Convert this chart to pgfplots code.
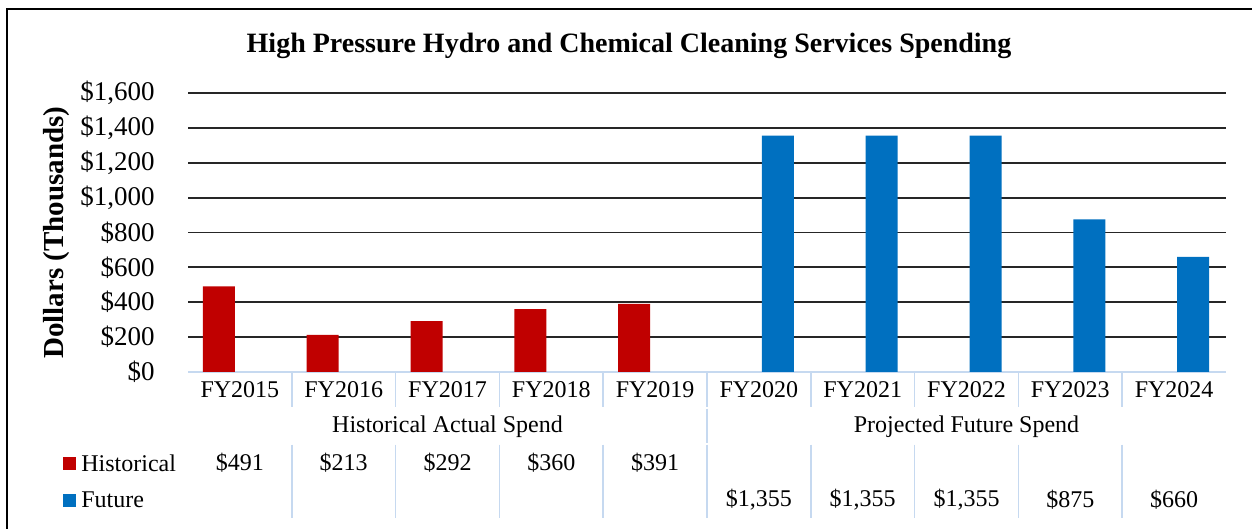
\documentclass[border=0pt]{standalone}
\usepackage{fontspec}
\setmainfont{Liberation Serif}
\usepackage{pgfplots}
\pgfplotsset{compat=1.18}
\definecolor{histred}{HTML}{C00000}
\definecolor{futblue}{HTML}{0070C0}
\definecolor{sepblue}{HTML}{C6D9F0}
\newcommand{\tf}{\fontsize{12}{14}\selectfont}
\newcommand{\yf}{\fontsize{13.5}{16}\selectfont}
\newcommand{\bff}{\bfseries\fontsize{14}{16}\selectfont}
\begin{document}
\begin{tikzpicture}[x=1pt,y=1pt]
\useasboundingbox (0,0) rectangle (626,264.5);
\fill[white] (0,0) rectangle (626,264.5);
\draw[line width=1.1pt] (3.5,0) -- (3.5,260) -- (626,260);
\begin{axis}[
  at={(94pt,78.5pt)}, anchor=south west, scale only axis,
  width=519pt, height=139.5pt,
  xmin=-0.5, xmax=9.5, ymin=0, ymax=1600,
  ybar, bar width=16pt,
  xtick=\empty,
  ytick={0,200,...,1600},
  yticklabels={\$0,\$200,\$400,\$600,\$800,{\$1,000},{\$1,200},{\$1,400},{\$1,600}},
  yticklabel style={font=\yf, anchor=east, inner sep=0pt, xshift=-16.5pt},
  ymajorgrids, grid style={black!85, line width=0.9pt},
  axis x line*=bottom, axis y line*=left,
  x axis line style={sepblue, line width=0.8pt, -},
  y axis line style={draw=none},
  ytick style={draw=none},
  clip=false,
]
\addplot[fill=histred, draw=none, bar shift=-10.5pt] coordinates {(0,491) (1,213) (2,292) (3,360) (4,391)};
\addplot[fill=futblue, draw=none, bar shift=9.5pt] coordinates {(5,1355) (6,1355) (7,1355) (8,875) (9,660)};
\end{axis}
\def\cw{51.9}
\foreach \i/\lab in {0/FY2015,1/FY2016,2/FY2017,3/FY2018,4/FY2019,5/FY2020,6/FY2021,7/FY2022,8/FY2023,9/FY2024}
  \node[font=\tf] at ({94+\cw*(\i+0.5)},69.5) {\lab};
\foreach \i in {1,...,9}{
  \draw[sepblue, line width=0.8pt] ({94+\cw*\i},78.5) -- ({94+\cw*\i},60.8);
  \draw[sepblue, line width=0.8pt] ({94+\cw*\i},42.2) -- ({94+\cw*\i},5.5);
}
\draw[sepblue, line width=0.8pt] ({94+\cw*5},60.2) -- ({94+\cw*5},43);
\node[font=\tf] at ({94+\cw*2.5},51) {Historical Actual Spend};
\node[font=\tf] at ({94+\cw*7.5},51) {Projected Future Spend};
\foreach \i/\v in {0/491,1/213,2/292,3/360,4/391}
  \node[font=\tf] at ({94+\cw*(\i+0.5)},33) {\$\v};
\foreach \i/\v in {5/{1,355},6/{1,355},7/{1,355},8/875,9/660}
  \node[font=\tf] at ({94+\cw*(\i+0.5)},14.5) {\$\v};
\fill[histred] (31.5,29.5) rectangle (38,36);
\fill[futblue] (31.5,11) rectangle (38,17.5);
\node[font=\tf, anchor=west, inner sep=0pt] at (40.5,33) {Historical};
\node[font=\tf, anchor=west, inner sep=0pt] at (40.5,14.5) {Future};
\node[font=\bff] at (314.5,241.5) {High Pressure Hydro and Chemical Cleaning Services Spending};
\node[font=\bfseries\fontsize{14.5}{17}\selectfont, rotate=90] at (28.5,148.25) {Dollars (Thousands)};
\end{tikzpicture}
\end{document}
